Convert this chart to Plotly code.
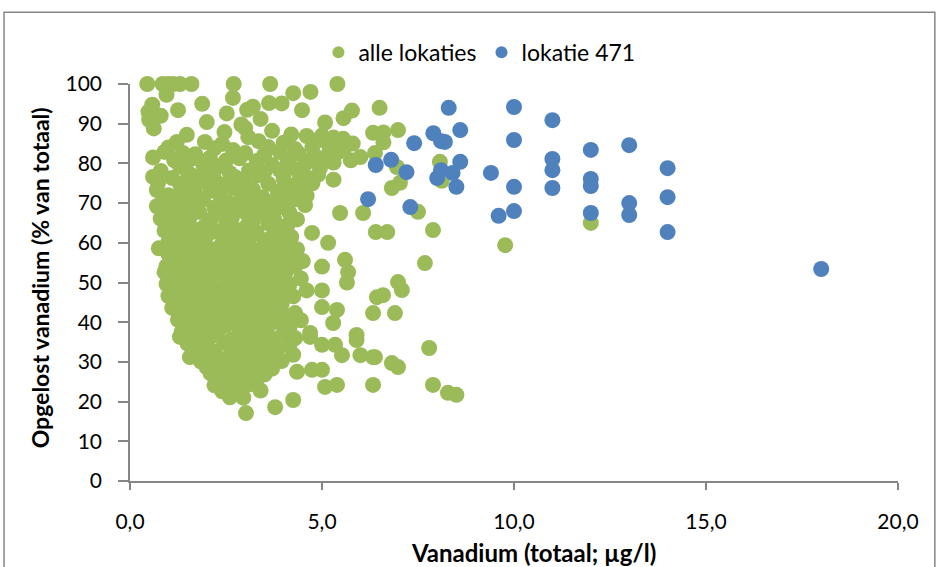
import plotly.graph_objects as go

# ---- data ----
blue_x = [6.4, 6.2, 6.8, 7.2, 7.3, 7.4, 7.9, 8.3, 8.1, 8.2, 8.6, 8.6, 8.1, 8.4, 8.0, 8.5, 9.4,
          10.0, 10.0, 10.0, 10.0, 9.6, 11.0, 11.0, 11.0, 11.0, 12.0, 12.0, 12.0, 12.0,
          13.0, 13.0, 13.0, 14.0, 14.0, 14.0, 18.0]
blue_y = [79.6, 71.0, 80.9, 77.8, 69.0, 85.1, 87.6, 94.0, 85.6, 85.4, 88.4, 80.4, 78.3, 77.6, 76.3, 74.1, 77.6,
          94.2, 85.9, 74.1, 68.0, 66.8, 90.9, 81.1, 78.3, 73.8, 83.4, 76.1, 74.3, 67.5,
          84.6, 70.0, 67.0, 78.8, 71.5, 62.7, 53.4]

green_points = [
    (0.45, 100), (0.85, 100), (1.0, 100), (1.12, 100), (1.3, 100), (1.6, 100), (2.7, 100), (3.65, 100), (5.4, 100),
    (0.95, 97.3), (2.68, 96.5), (4.25, 97.7), (4.7, 98.0),
    (0.58, 94.8), (1.88, 95.0), (3.2, 94.3), (3.62, 95.2), (3.95, 95.1),
    (0.48, 93.0), (1.25, 93.4), (3.05, 93.5), (4.48, 93.4), (5.78, 93.3), (6.5, 94.0),
    (2.52, 92.6), (0.8, 92.0),
    (0.5, 91.0), (5.56, 91.4), (3.4, 91.2),
    (2.0, 90.4), (5.08, 90.3), (2.9, 89.8),
    (0.62, 88.8), (2.46, 87.9), (3.0, 88.9), (3.7, 88.2), (6.33, 87.7), (6.98, 88.4), (6.6, 87.8),
    (1.48, 87.2), (3.08, 86.6), (4.2, 87.3), (4.6, 86.9), (5.0, 87.0), (5.3, 86.5), (5.55, 86.2),
    (1.22, 85.4), (1.95, 85.4), (2.4, 84.9), (3.35, 85.6), (4.0, 85.2), (4.9, 85.8), (5.8, 85.0), (6.6, 85.3),
    (2.68, 83.4), (1.0, 84.0), (2.2, 83.8), (3.6, 84.1), (4.3, 83.6), (4.75, 84.3), (5.2, 83.9), (5.6, 84.2),
    (0.9, 82.9), (1.38, 82.6), (1.7, 82.3), (2.08, 81.4), (3.0, 82.6), (3.5, 82.2), (3.9, 82.9), (4.4, 82.4),
    (4.8, 82.0), (5.4, 82.7), (6.0, 81.6), (6.38, 82.6),
    (0.6, 81.5), (1.15, 80.8), (1.6, 81.2), (2.5, 80.7), (2.85, 81.3), (3.3, 80.6), (4.1, 81.1), (4.6, 80.5),
    (5.0, 81.3), (5.3, 80.2), (5.75, 80.8), (8.07, 80.4),
    (1.3, 79.3), (1.9, 79.8), (2.3, 79.2), (3.7, 79.6), (4.2, 79.0), (4.55, 79.7), (4.95, 78.9), (6.95, 79.1),
    (0.8, 78.1), (1.5, 77.8), (2.0, 78.4), (2.6, 77.6), (3.1, 78.2), (3.5, 77.9), (3.9, 78.3), (4.4, 77.5), (4.9, 77.2),
    (0.6, 76.6), (1.1, 76.3), (1.65, 76.8), (2.2, 76.0), (2.75, 76.5), (3.3, 76.9), (4.0, 76.2), (4.6, 76.4),
    (5.3, 75.9), (7.03, 75.1),
    (0.73, 75.1), (1.3, 74.8), (1.85, 75.3), (2.45, 74.6), (2.95, 75.2), (3.6, 74.9), (4.2, 74.4), (4.75, 75.0), (8.12, 75.6),
    (0.7, 73.3), (1.5, 73.6), (2.1, 73.1), (2.7, 73.8), (3.2, 73.4), (3.85, 73.0), (4.4, 73.7), (6.82, 73.8),
    (1.0, 72.0), (1.2, 71.6), (1.7, 72.3), (2.35, 71.8), (2.9, 72.1), (3.45, 71.5), (4.0, 72.2), (4.6, 71.9),
    (0.86, 70.8), (1.4, 70.4), (1.9, 70.9), (2.55, 70.2), (3.1, 70.6), (3.7, 70.3), (4.25, 70.8),
    (0.7, 69.2), (1.1, 68.8), (1.6, 69.4), (2.2, 68.9), (2.75, 69.3), (3.35, 68.6), (3.9, 69.0), (4.56, 69.5),
    (0.9, 67.6), (1.3, 67.2), (1.8, 67.8), (2.4, 67.3), (3.0, 67.7), (3.55, 67.1), (4.15, 67.6), (5.47, 67.5),
    (6.07, 67.5), (7.5, 67.8),
    (0.8, 66.1), (1.15, 65.7), (1.55, 66.3), (2.1, 65.8), (2.65, 66.2), (3.2, 65.6), (3.75, 66.0), (4.35, 65.9),
    (1.0, 64.4), (1.4, 64.8), (1.95, 64.2), (2.5, 64.7), (3.05, 64.3), (3.6, 64.9), (4.1, 64.5),
    (0.9, 63.1), (1.2, 62.7), (1.7, 63.3), (2.25, 62.8), (2.8, 63.2), (3.3, 62.6), (3.85, 63.0), (4.74, 62.5),
    (6.4, 62.7), (6.7, 62.7), (7.89, 63.2),
    (1.1, 61.6), (1.5, 61.2), (2.0, 61.8), (2.6, 61.3), (3.15, 61.7), (3.65, 61.1), (4.2, 61.5), (5.16, 60.0),
    (1.0, 60.2), (1.35, 59.7), (1.85, 60.3), (2.4, 59.8), (2.95, 60.4), (3.5, 59.9), (4.0, 60.1),
    (0.75, 58.6), (1.2, 58.2), (1.6, 58.8), (2.15, 58.3), (2.7, 58.7), (3.25, 58.1), (3.8, 58.6), (4.35, 58.4),
    (1.0, 57.1), (1.45, 56.8), (1.95, 57.3), (2.5, 56.7), (3.05, 57.2), (3.6, 56.9), (4.15, 57.0),
    (1.1, 55.6), (1.3, 55.2), (1.75, 55.7), (2.3, 55.3), (2.85, 55.8), (3.4, 55.1), (3.95, 55.5), (4.5, 55.4), (5.6, 55.7),
    (0.95, 54.1), (1.55, 53.8), (2.05, 54.3), (2.6, 53.7), (3.15, 54.2), (3.7, 53.9), (4.3, 54.0), (5.0, 54.0), (7.68, 54.9),
    (0.9, 52.6), (1.25, 52.2), (1.8, 52.8), (2.4, 52.3), (2.95, 52.7), (3.5, 52.1), (4.05, 52.5), (5.68, 52.6),
    (1.0, 51.1), (1.5, 50.8), (2.1, 51.3), (2.7, 50.7), (3.25, 51.2), (3.8, 50.9), (4.45, 51.0),
    (5.65, 50.0), (6.98, 50.1),
    (0.95, 49.6), (1.3, 49.2), (1.85, 49.8), (2.45, 49.3), (3.0, 49.7), (3.55, 49.1), (4.15, 49.5),
    (1.1, 48.1), (1.6, 47.7), (2.2, 48.3), (2.75, 47.8), (3.3, 48.2), (3.9, 47.6), (4.6, 48.0), (5.0, 48.0), (7.08, 48.1),
    (1.0, 46.6), (1.4, 46.2), (1.9, 46.8), (2.5, 46.3), (3.05, 46.7), (3.6, 46.1), (4.25, 46.5), (6.43, 46.3), (6.59, 46.8),
    (1.2, 45.1), (1.7, 44.7), (2.25, 45.3), (2.8, 44.8), (3.35, 45.2), (3.95, 44.6),
    (1.1, 43.6), (1.5, 43.2), (2.0, 43.8), (2.55, 43.3), (3.1, 43.7), (3.7, 43.1), (4.3, 42.3), (5.0, 43.8), (5.39, 43.1),
    (1.3, 42.1), (1.8, 41.7), (2.35, 42.3), (2.9, 41.8), (3.45, 42.2), (4.05, 41.6), (6.33, 42.3), (6.9, 42.3),
    (1.25, 40.6), (1.6, 40.2), (2.15, 40.8), (2.7, 40.3), (3.25, 40.7), (3.8, 40.1), (4.45, 40.5),
    (5.29, 39.8),
    (1.45, 39.1), (1.95, 38.7), (2.5, 39.3), (3.05, 38.8), (3.6, 39.2), (4.15, 38.6),
    (1.35, 37.6), (1.75, 37.2), (2.3, 37.8), (2.85, 37.3), (3.4, 37.7), (4.0, 37.1), (4.69, 37.3),
    (4.04, 36.8), (4.69, 36.3), (5.9, 36.8),
    (1.3, 36.3), (1.6, 35.8), (2.1, 36.4), (2.65, 35.7), (3.2, 36.2), (3.75, 35.9), (4.3, 36.0),
    (1.5, 34.6), (1.9, 34.2), (2.45, 34.8), (3.0, 34.3), (3.55, 34.7), (4.15, 34.1), (5.0, 34.3), (5.34, 34.3),
    (5.9, 35.5), (7.79, 33.5),
    (1.7, 33.1), (2.2, 32.7), (2.75, 33.3), (3.3, 32.8), (3.85, 33.2),
    (1.56, 31.2), (2.05, 31.6), (2.55, 31.1), (3.1, 31.7), (3.65, 31.3), (4.25, 31.8), (5.52, 31.7), (6.0, 31.7),
    (6.33, 31.2), (6.38, 31.2),
    (1.85, 30.1), (2.3, 29.7), (2.85, 30.3), (3.4, 29.8), (3.95, 30.2),
    (2.0, 28.6), (2.6, 28.2), (3.15, 28.8), (3.7, 28.3), (4.74, 28.0), (5.0, 28.0), (6.98, 28.7), (6.82, 29.7),
    (2.1, 27.1), (2.45, 26.7), (2.95, 27.3), (3.5, 26.8), (4.35, 27.5),
    (2.3, 25.6), (2.75, 25.2), (3.3, 25.7),
    (2.2, 24.1), (2.55, 23.8), (3.1, 24.3), (5.08, 23.7), (5.39, 24.2), (6.33, 24.2), (7.89, 24.2),
    (2.4, 22.6), (2.8, 22.2), (3.4, 22.8),
    (2.6, 21.1), (2.95, 21.0), (8.28, 22.2), (8.5, 21.7),
    (4.25, 20.4), (3.78, 18.6), (3.02, 17.1),
    (9.77, 59.4), (12.0, 65.0),
]
green_x = [p[0] for p in green_points]
green_y = [p[1] for p in green_points]

x_ticks = [0, 5, 10, 15, 20]
x_ticktext = ["0,0", "5,0", "10,0", "15,0", "20,0"]
y_ticks = [0, 10, 20, 30, 40, 50, 60, 70, 80, 90, 100]

GREEN = "#9BBB59"
BLUE = "#4F81BD"
AXIS = "#868686"
FONT = "Lato"

fig = go.Figure()
fig.add_trace(go.Scatter(x=green_x, y=green_y, mode="markers", name="alle lokaties",
                         marker=dict(color=GREEN, size=16, line=dict(width=0)), cliponaxis=False))
fig.add_trace(go.Scatter(x=blue_x, y=blue_y, mode="markers", name="lokatie 471",
                         marker=dict(color=BLUE, size=16, line=dict(width=0)), cliponaxis=False))

fig.update_layout(
    width=938, height=567,
    margin=dict(l=130, r=40, t=84, b=86),
    paper_bgcolor="white", plot_bgcolor="white",
    font=dict(family=FONT, size=21, color="black"),
    showlegend=True,
    legend=dict(orientation="h", x=0.455, xanchor="center", y=1.08, yanchor="middle",
                font=dict(size=23), itemsizing="constant", bgcolor="rgba(0,0,0,0)",
                itemwidth=30, tracegroupgap=0),
    xaxis=dict(range=[0, 20], tickvals=x_ticks, ticktext=x_ticktext, showgrid=False, zeroline=False,
               showline=True, linecolor=AXIS, linewidth=1.5, ticks="outside", ticklen=7, tickcolor=AXIS,
               tickwidth=1.5, ticklabelstandoff=14, tickfont=dict(size=21)),
    yaxis=dict(range=[0, 100], tickvals=y_ticks, showgrid=False, zeroline=False,
               showline=True, linecolor=AXIS, linewidth=1.5, ticks="outside", ticklen=10, tickcolor=AXIS,
               tickwidth=1.5, ticklabelstandoff=12, tickfont=dict(size=21)),
    annotations=[
        dict(text="<b>Vanadium (totaal; µg/l)</b>", xref="paper", yref="paper", x=0.525, y=-0.181,
             xanchor="center", yanchor="middle", showarrow=False, font=dict(size=24)),
        dict(text="<b>Opgelost vanadium (% van totaal)</b>", xref="paper", yref="paper", x=-0.117, y=0.511,
             xanchor="center", yanchor="middle", showarrow=False, textangle=-90, font=dict(size=23)),
    ],
    shapes=[dict(type="rect", xref="paper", yref="paper", x0=-0.164, x1=1.048, y0=-0.26, y1=1.181,
                 line=dict(color=AXIS, width=1.5), layer="below")],
)

fig.write_html("out.html")
